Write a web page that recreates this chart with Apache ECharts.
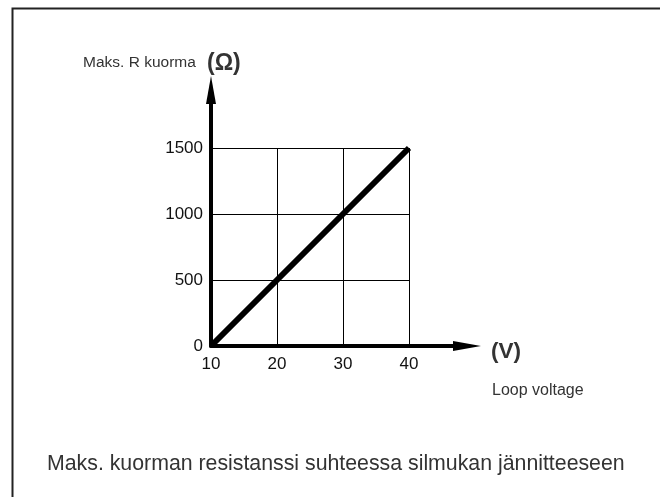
<!DOCTYPE html>
<html>
<head>
<meta charset="utf-8">
<script src="https://cdn.jsdelivr.net/npm/echarts@6/dist/echarts.min.js"></script>
<style>
  html, body { margin: 0; padding: 0; background: #fff; }
  #chart { width: 660px; height: 497px; }
</style>
</head>
<body>
<div id="chart"></div>
<script>
// loop voltage (V) vs max load resistance (ohm)
var voltage = [10, 20, 30, 40];
var resistance = [0, 500, 1000, 1500];
var xTicks = [10, 20, 30, 40];
var yTicks = [0, 500, 1000, 1500];

var yName = "Maks. R kuorma";
var yUnit = "(Ω)";
var xUnit = "(V)";
var xName = "Loop voltage";
var caption = "Maks. kuorman resistanssi suhteessa silmukan jännitteeseen";

var font = "Liberation Sans, Arial, sans-serif";

// plot area: 10..40 V and 0..1500 ohm, 66px per step
var left = 211, bottom = 346, step = 66;
var plotW = step * (xTicks.length - 1);
var plotH = step * (yTicks.length - 1);
// arrow axes stick out beyond the grid
var arrowW = 256, arrowH = 256;
var xStep = xTicks[1] - xTicks[0], yStep = yTicks[1] - yTicks[0];

function plain(v) {
  return String(v);
}

var myChart = echarts.init(document.getElementById("chart"));
myChart.setOption({
  animation: false,
  backgroundColor: "#fff",
  title: [
    { text: yName, left: 83, top: 55, padding: 0,
      textStyle: { fontFamily: font, fontSize: 15.5, fontWeight: "normal", color: "#333" } },
    { text: yUnit, left: 207, top: 52, padding: 0,
      textStyle: { fontFamily: font, fontSize: 23, fontWeight: "bold", color: "#333" } },
    { text: xUnit, left: 491, top: 340, padding: 0,
      textStyle: { fontFamily: font, fontSize: 22.5, fontWeight: "bold", color: "#333" } },
    { text: xName, left: 492, top: 383, padding: 0,
      textStyle: { fontFamily: font, fontSize: 16, fontWeight: "normal", color: "#333" } },
    { text: caption, left: 47, top: 454, padding: 0,
      textStyle: { fontFamily: font, fontSize: 21.3, fontWeight: "normal", color: "#333" } }
  ],
  grid: [
    { left: left, top: bottom - plotH, width: plotW, height: plotH },
    { left: left, top: bottom - arrowH, width: arrowW, height: arrowH }
  ],
  xAxis: [
    {
      gridIndex: 0, type: "value",
      min: xTicks[0], max: xTicks[xTicks.length - 1], interval: xStep,
      axisLine: { show: false }, axisTick: { show: false },
      axisLabel: { margin: 10, color: "#111", fontFamily: font, fontSize: 17, formatter: plain },
      splitLine: { show: true, lineStyle: { color: "#000", width: 1 } }
    },
    {
      gridIndex: 1, type: "value",
      min: xTicks[0], max: xTicks[0] + xStep * arrowW / step,
      axisLine: { show: true, symbol: ["none", "triangle"], symbolSize: [10, 28],
        lineStyle: { color: "#000", width: 4 } },
      axisTick: { show: false }, axisLabel: { show: false }, splitLine: { show: false }
    }
  ],
  yAxis: [
    {
      gridIndex: 0, type: "value",
      min: yTicks[0], max: yTicks[yTicks.length - 1], interval: yStep,
      axisLine: { show: false }, axisTick: { show: false },
      axisLabel: { margin: 8, color: "#111", fontFamily: font, fontSize: 17, formatter: plain },
      splitLine: { show: true, lineStyle: { color: "#000", width: 1 } }
    },
    {
      gridIndex: 1, type: "value",
      min: yTicks[0], max: yTicks[0] + yStep * arrowH / step,
      axisLine: { show: true, symbol: ["none", "triangle"], symbolSize: [10, 28],
        lineStyle: { color: "#000", width: 4 } },
      axisTick: { show: false }, axisLabel: { show: false }, splitLine: { show: false }
    }
  ],
  graphic: [
    {
      type: "polyline", silent: true,
      shape: { points: [[12.5, 497], [12.5, 8.5], [660, 8.5]] },
      style: { stroke: "#222", lineWidth: 2, fill: null }
    }
  ],
  series: [
    {
      type: "line", xAxisIndex: 0, yAxisIndex: 0,
      data: voltage.map(function (v, i) { return [v, resistance[i]]; }),
      showSymbol: false, clip: false,
      lineStyle: { color: "#000", width: 6, cap: "butt" }
    }
  ]
});
</script>
</body>
</html>
